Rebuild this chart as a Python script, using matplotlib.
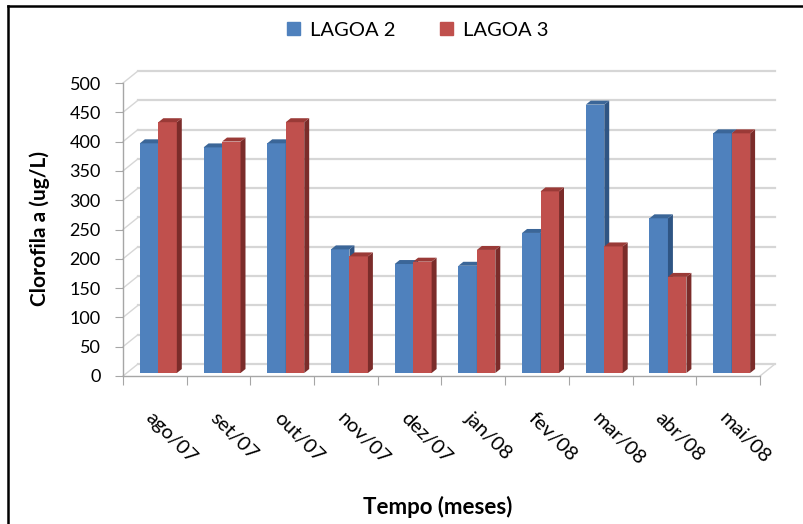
import matplotlib
matplotlib.use('Agg')
import matplotlib.pyplot as plt
from matplotlib.patches import Polygon, Patch
from matplotlib.lines import Line2D

# Data
meses = ['ago/07', 'set/07', 'out/07', 'nov/07', 'dez/07',
         'jan/08', 'fev/08', 'mar/08', 'abr/08', 'mai/08']
lagoa2 = [392, 385, 392, 211, 186, 183, 239, 458, 264, 409]
lagoa3 = [428, 395, 428, 199, 190, 210, 310, 216, 164, 409]
series = ['LAGOA 2', 'LAGOA 3']
yticks = list(range(0, 501, 50))

# colours: front, side, top
blue = ('#4f81bd', '#2f5584', '#3b6698')
red = ('#c0504d', '#7b2c2a', '#9a3a37')

# fake 3D depth (in data units)
wall_dx, wall_dy = 0.235, 20.5
bar_dx, bar_dy = 0.055, 5.1
depth_x, depth_y = 0.078, 6.8
w = 0.29

plt.rcParams['font.family'] = ['Lato', 'DejaVu Sans']

fig = plt.figure(figsize=(8.04, 5.24), dpi=100)
ax = fig.add_axes([123/804, 1 - 376/524, 637/804, 293/524])
ax.set_xlim(-0.5, len(meses) - 0.5)
ax.set_ylim(0, 500)

grid_c = '#d6d6d6'
# back wall gridlines and left wall slants
for v in yticks:
    ax.plot([-0.5 + wall_dx, len(meses) - 0.5 + wall_dx], [v + wall_dy, v + wall_dy],
            color=grid_c, lw=1.6, clip_on=False, zorder=1)
    ax.plot([-0.5, -0.5 + wall_dx], [v, v + wall_dy],
            color=grid_c, lw=1.0, clip_on=False, zorder=1)
ax.plot([len(meses) - 0.5, len(meses) - 0.5 + wall_dx], [0, wall_dy],
        color=grid_c, lw=1.0, clip_on=False, zorder=1)


def bar3d(x, h, cols):
    x0 = x - w / 2
    x1 = x + w / 2
    b = bar_dy
    ax.add_patch(Polygon([(x0, b), (x1, b), (x1, b + h), (x0, b + h)],
                         closed=True, facecolor=cols[0], edgecolor='none', zorder=3))
    ax.add_patch(Polygon([(x1, b), (x1 + depth_x, b + depth_y),
                          (x1 + depth_x, b + h + depth_y), (x1, b + h)],
                         closed=True, facecolor=cols[1], edgecolor='none', zorder=3))
    ax.add_patch(Polygon([(x0, b + h), (x1, b + h), (x1 + depth_x, b + h + depth_y),
                          (x0 + depth_x, b + h + depth_y)],
                         closed=True, facecolor=cols[2], edgecolor='none', zorder=3))


for i in range(len(meses)):
    bar3d(i + bar_dx - w / 2, lagoa2[i], blue)
    bar3d(i + bar_dx + w / 2, lagoa3[i], red)

for s in ['top', 'right']:
    ax.spines[s].set_visible(False)
for s in ['left', 'bottom']:
    ax.spines[s].set_color('#a6a6a6')
    ax.spines[s].set_linewidth(1.0)

ax.set_yticks(yticks)
ax.tick_params(axis='y', length=6, color='#a6a6a6', pad=10, labelsize=13)
ax.set_xticks([i - 0.5 for i in range(len(meses) + 1)])
ax.set_xticklabels([])
ax.tick_params(axis='x', which='major', length=6.5, color='#a6a6a6')
ax.set_xticks(range(len(meses)), minor=True)
ax.set_xticklabels(meses, minor=True)
ax.tick_params(axis='x', which='minor', length=0, pad=24, labelsize=14.5)
plt.setp(ax.get_xticklabels(minor=True), rotation=-45, ha='left', va='top',
         rotation_mode='anchor')

fig.text(40/804, 1 - 229/524, 'Clorofila a (ug/L)', rotation=90, fontsize=15,
         fontweight='bold', ha='center', va='center')
fig.text(438/804, 1 - 507/524, 'Tempo (meses)', fontsize=16,
         fontweight='bold', ha='center', va='center')

handles = [Patch(color=blue[0]), Patch(color=red[0])]
fig.legend(handles, series, loc='center', bbox_to_anchor=(418/804, 1 - 30/524),
           ncol=2, frameon=False, fontsize=14.5, handlelength=0.65,
           handleheight=0.65, handletextpad=0.5, columnspacing=2.2)

# partial outer frame (left and top)
fig.add_artist(Line2D([8/804, 8/804], [0, 1 - 6/524], color='black', lw=1.8))
fig.add_artist(Line2D([8/804, 1], [1 - 6/524, 1 - 6/524], color='black', lw=1.8))

fig.savefig('out.png', dpi=100)
